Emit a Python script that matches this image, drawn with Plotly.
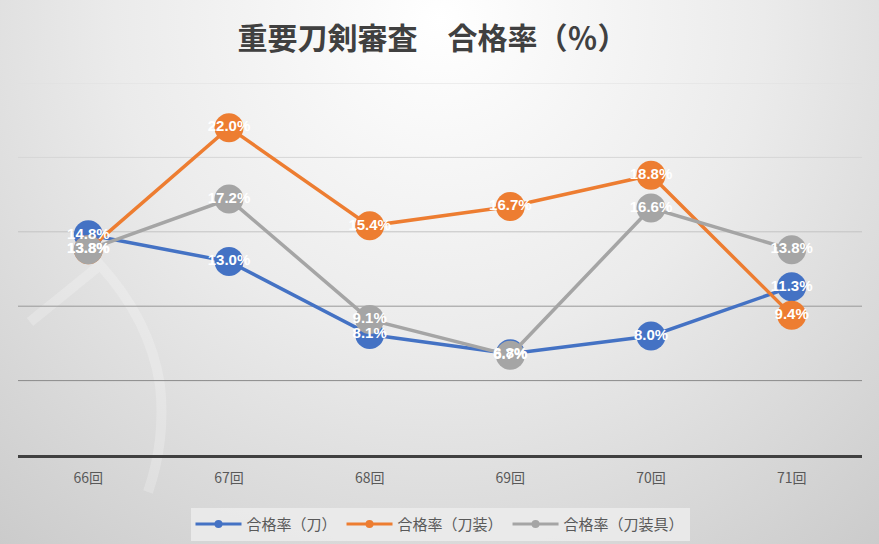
import base64
import plotly.graph_objects as go

# ---- data ----
categories = ["66回", "67回", "68回", "69回", "70回", "71回"]
series_names = ["合格率（刀）", "合格率（刀装）", "合格率（刀装具）"]
katana = [14.8, 13.0, 8.1, 6.8, 8.0, 11.3]
tosou = [13.8, 22.0, 15.4, 16.7, 18.8, 9.4]
tosougu = [13.8, 17.2, 9.1, 6.7, 16.6, 13.8]
colors = ["#4472C4", "#ED7D31", "#A5A5A5"]
grid_values = [5, 10, 15, 20, 25]
grid_colors = ["#8a8a8a", "#999999", "#c4c4c4", "#d6d6d6", "#e0e0e0"]
title_text = "重要刀剣審査　合格率（％）"

W, H = 879, 544
L, R, T, B = 18, 17, 83, 89
pw, ph = W - L - R, H - T - B

# background gradient + faint watermark stroke as an SVG image
svg = f'''<svg xmlns="http://www.w3.org/2000/svg" width="{W}" height="{H}" viewBox="0 0 {W} {H}">
<defs><radialGradient id="g" cx="440" cy="20" r="720" gradientUnits="userSpaceOnUse">
<stop offset="0" stop-color="#ffffff"/><stop offset="0.45" stop-color="#ebebeb"/><stop offset="1" stop-color="#c8c8c8"/></radialGradient></defs>
<rect width="{W}" height="{H}" fill="url(#g)"/>
<path d="M30 322 L100 265 Q150 320 160 385 Q166 440 148 492" fill="none" stroke="#ffffff" stroke-opacity="0.22" stroke-width="10" stroke-linecap="butt"/>
</svg>'''
src = "data:image/svg+xml;base64," + base64.b64encode(svg.encode("utf-8")).decode()

fig = go.Figure()
all_vals = [katana, tosou, tosougu]
for name, vals, c in zip(series_names, all_vals, colors):
    fig.add_trace(go.Scatter(
        x=categories, y=vals, name=name, mode="lines+markers", showlegend=False,
        line=dict(color=c, width=3.5),
        marker=dict(color=c, size=29),
        cliponaxis=False,
    ))
for name, vals in zip(series_names, all_vals):
    fig.add_trace(go.Scatter(
        x=categories, y=vals, mode="text", showlegend=False,
        text=[f"{v:.1f}%" for v in vals], textposition="middle center",
        textfont=dict(color="white", size=15, family="Liberation Sans"),
        texttemplate="<b>%{text}</b>", hoverinfo="skip", cliponaxis=False,
    ))
# legend entries (small marker like the original legend)
for name, c in zip(series_names, colors):
    fig.add_trace(go.Scatter(
        x=[None], y=[None], name=name, mode="lines+markers",
        line=dict(color=c, width=3), marker=dict(color=c, size=8),
    ))

shapes = []
for gv, gc in zip(grid_values, grid_colors):
    shapes.append(dict(type="line", xref="paper", yref="y", x0=0, x1=1, y0=gv, y1=gv,
                       line=dict(color=gc, width=1), layer="below"))

fig.update_layout(
    width=W, height=H,
    margin=dict(l=L, r=R, t=T, b=B, autoexpand=False),
    paper_bgcolor="#e0e0e0",
    plot_bgcolor="rgba(0,0,0,0)",
    images=[dict(source=src, xref="paper", yref="paper",
                 x=-L / pw, y=1 + T / ph, sizex=W / pw, sizey=H / ph,
                 xanchor="left", yanchor="top", sizing="stretch", layer="below")],
    shapes=shapes,
    title=dict(text=f"<b>{title_text}</b>", x=0.492, xanchor="center", y=0.93, yanchor="middle",
               font=dict(size=30, color="#404040", family="Noto Sans CJK JP")),
    xaxis=dict(range=[-0.5, 5.5], showgrid=False, showline=True, linecolor="#404040", linewidth=3,
               ticks="", tickfont=dict(size=14, color="#595959", family="Noto Sans CJK JP"),
               ticklabelstandoff=8, fixedrange=True),
    yaxis=dict(range=[0, 25], showgrid=False, zeroline=False, showticklabels=False,
               fixedrange=True),
    legend=dict(orientation="h", x=0.5, xanchor="center", y=-0.142, yanchor="top",
                bgcolor="rgba(238,238,238,0.8)",
                font=dict(size=15, color="#595959", family="Noto Sans CJK JP"),
                itemwidth=46, tracegroupgap=0),
    showlegend=True,
)
fig.write_html("out.html")
